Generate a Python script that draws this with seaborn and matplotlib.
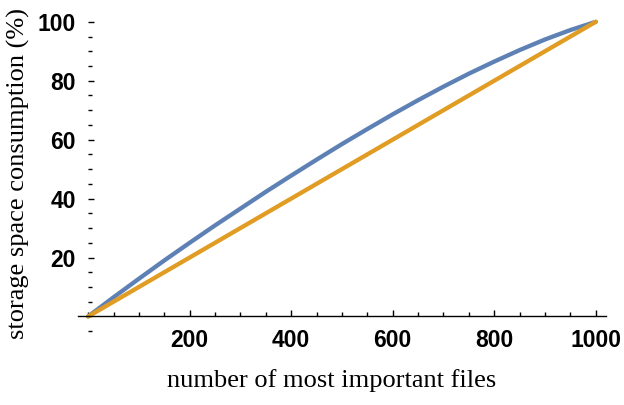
import numpy as np
import pandas as pd
import seaborn as sns
import matplotlib.pyplot as plt
from matplotlib.ticker import MultipleLocator

# number of most important files vs share of storage they take (%)
files = [0, 50, 100, 150, 200, 250, 300, 350, 400, 450, 500,
         550, 600, 650, 700, 750, 800, 850, 900, 950, 1000]
storage = [0, 6.5, 12.8, 19.0, 25.0, 30.9, 36.6, 42.3, 47.8, 53.2, 58.5,
           63.6, 68.6, 73.4, 78.0, 82.4, 86.5, 90.4, 94.0, 97.2, 100]
uniform = [0, 5, 10, 15, 20, 25, 30, 35, 40, 45, 50,
           55, 60, 65, 70, 75, 80, 85, 90, 95, 100]

xticks = [200, 400, 600, 800, 1000]
yticks = [20, 40, 60, 80, 100]

df = pd.DataFrame({'files': files, 'storage': storage, 'uniform': uniform})

sns.set_theme(style='white')
plt.rcParams['font.family'] = ['Liberation Sans', 'DejaVu Sans']

fig = plt.figure(figsize=(6.24, 4.05), dpi=100)
ax = fig.add_axes([0.125, 0.175, 0.846, 0.793])

sns.lineplot(data=df, x='files', y='storage', color='#5E81B5', lw=3.1, ax=ax)
sns.lineplot(data=df, x='files', y='uniform', color='#E19C24', lw=3.1, ax=ax)

ax.set_xlim(-20, 1020)
ax.set_ylim(-6, 103)

for s in ['top', 'right']:
    ax.spines[s].set_visible(False)
ax.spines['bottom'].set_position(('data', 0))
ax.spines['bottom'].set_color('black')
ax.spines['bottom'].set_linewidth(1.0)
ax.spines['left'].set_position(('data', 0))
ax.spines['left'].set_color('none')

ax.set_xticks(xticks)
ax.set_yticks(yticks)
ax.xaxis.set_minor_locator(MultipleLocator(50))
ax.yaxis.set_minor_locator(MultipleLocator(5))
ax.tick_params(which='both', direction='in', color='black', width=1.0,
               bottom=True, left=True)
ax.tick_params(which='major', length=4.5)
ax.tick_params(which='minor', length=2.8)
ax.tick_params(axis='x', which='major', pad=9)
ax.tick_params(axis='y', which='major', pad=9)
for lab in ax.get_xticklabels() + ax.get_yticklabels():
    lab.set_fontweight('bold')
    lab.set_fontsize(16.5)
    lab.set_color('black')

ax.set_xlabel('number of most important files', family='Liberation Serif',
              fontsize=19, color='black')
ax.set_ylabel('storage space consumption (%)', family='Liberation Serif',
              fontsize=19, color='black')
ax.xaxis.set_label_coords(0.48, -0.11)
ax.yaxis.set_label_coords(-0.09, 0.5)

fig.savefig('out.png', dpi=100)
